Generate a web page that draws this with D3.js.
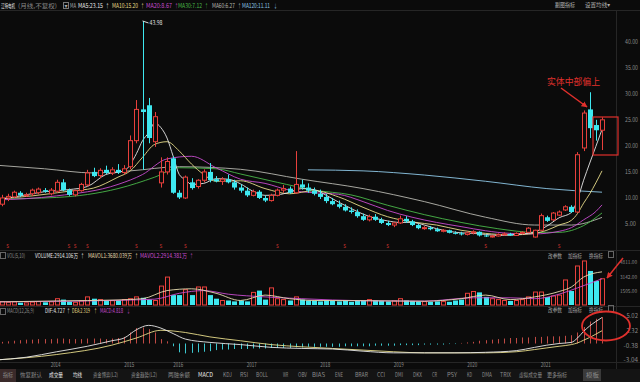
<!DOCTYPE html>
<html><head><meta charset="utf-8">
<script src="https://cdn.jsdelivr.net/npm/d3@7"></script>
<style>
body{margin:0;background:#0b0b0b;overflow:hidden}
svg{display:block}
text{font-family:"Noto Sans CJK SC","DejaVu Sans",sans-serif}
</style></head><body>
<svg width="640" height="382"></svg>
<script>
// monthly candles, index 0 = 2013-04
var open  = [9.6,8.8,10.0,10.2,11.0,10.5,10.8,11.0,11.5,10.8,11.3,13.0,11.5,10.6,11.4,12.5,15.0,14.3,15.4,14.8,15.4,14.9,16.0,21.0,27.0,27.8,20.8,12.9,15.0,17.6,
  11.0,10.0,13.0,12.2,13.4,15.0,13.6,13.2,13.6,13.0,12.0,11.4,10.5,11.2,10.0,9.5,10.5,11.5,11.8,11.0,12.6,12.0,11.4,10.8,10.2,9.4,8.8,8.3,7.6,7.3,
  6.5,5.8,6.4,5.8,5.2,4.8,5.2,6.0,5.5,4.8,4.2,4.3,4.0,3.6,3.8,3.3,3.2,3.0,3.3,3.5,2.8,2.6,2.7,3.0,3.1,2.8,3.2,3.4,2.5,3.8,
  6.3,5.8,6.7,7.7,8.3,7.3,19.6,27.0,24.0,23.0]
var high  = [10.2,10.6,10.8,11.4,11.3,11.0,11.8,12.0,11.9,11.9,13.5,13.6,11.8,11.6,12.9,15.4,15.8,15.7,16.2,15.9,16.5,16.3,22.0,28.8,43.98,29.2,26.5,17.8,17.8,18.0,
  11.5,14.3,13.8,13.6,15.5,16.7,14.2,14.0,14.5,13.5,12.6,12.0,11.6,11.5,10.5,10.8,11.8,12.5,12.2,19.0,13.5,12.8,12.0,11.6,10.8,10.0,9.5,8.8,8.2,7.8,
  7.0,6.8,6.9,6.2,5.6,5.4,6.6,6.5,5.8,5.0,4.6,4.6,4.3,4.0,3.9,3.6,3.5,3.6,3.8,3.6,3.0,2.9,3.2,3.4,3.3,3.4,3.6,4.4,3.9,7.0,
  6.6,7.3,7.6,8.6,8.6,18.8,26.8,30.3,25.0,25.5]
var low   = [8.8,8.4,9.4,10.0,10.2,10.2,10.4,10.7,11.0,10.5,11.0,11.3,10.4,10.3,11.2,12.2,14.0,13.8,14.6,14.4,14.6,14.5,15.5,20.5,15.4,20.5,19.8,12.0,14.5,10.8,
  9.8,9.8,11.6,11.8,13.0,13.0,13.0,12.5,12.8,11.6,11.0,10.2,10.3,9.8,9.2,9.3,10.3,11.0,10.8,10.8,11.6,11.0,10.5,9.8,9.0,8.6,8.0,7.4,7.0,6.2,
  5.6,5.5,5.6,5.0,4.6,4.4,5.0,5.2,4.6,4.0,3.9,3.8,3.5,3.4,3.2,3.0,2.8,2.8,3.0,2.6,2.5,2.4,2.6,2.8,2.7,2.7,3.0,3.3,2.4,3.7,
  5.4,5.6,6.5,7.5,7.1,7.1,19.0,21.5,21.0,19.2]
var close = [9.0,10.0,10.3,11.1,10.5,10.6,11.5,11.7,11.2,11.5,13.0,11.5,10.6,11.4,12.6,14.8,14.2,15.3,14.8,15.4,14.9,15.6,21.0,27.0,26.5,21.5,25.6,15.0,17.0,11.0,
  10.1,14.0,11.9,13.4,15.0,13.4,13.2,13.6,13.0,12.0,11.4,10.5,11.2,10.0,9.5,10.5,11.5,11.8,11.0,12.6,12.0,11.4,10.8,10.2,9.4,8.8,8.3,7.6,7.3,6.5,
  5.8,6.4,5.8,5.2,4.8,5.2,6.0,5.5,4.8,4.2,4.3,4.0,3.6,3.8,3.3,3.2,3.0,3.3,3.5,2.8,2.6,2.7,3.0,3.1,2.8,3.2,3.4,4.2,3.8,6.6,
  5.6,7.1,7.3,8.3,7.3,18.3,26.3,23.4,23.0,25.0]
var volume = [420,380,300,350,260,240,320,380,300,350,700,600,380,300,450,900,700,600,500,480,520,600,700,900,800,600,500,2100,3100,1100,
  1100,1700,1100,2000,2000,1100,700,500,500,400,500,400,1400,1600,600,1900,700,600,500,900,600,500,450,400,500,450,400,500,350,450,
  500,600,500,450,400,450,700,500,450,400,380,350,400,380,350,500,600,1300,1500,1400,900,700,600,500,450,500,600,900,1440,1440,
  890,1000,1100,2780,1550,4330,4890,3780,2670,2914]

var yearLabels = ['2014','2015','2016','2017','2018','2019','2020','2021']
var yearIdx = [9,21,29,41,53,65,77,89]
var priceTicks = [5,10,15,20,25,30,35,40]
var volTicks = [1505,3142,4811]
var volTickLabels = ['1505.00','3142.00','4811.00']
var macdTicks = [-3.04,-0.38,2.32,5.02]

// moving averages: [index, value]
var ma5   = [[0,9.6],[4,10.4],[8,11.2],[12,11.6],[15,12.2],[18,14.5],[21,15.2],[23,18.5],[24,21],[25,22.5],[26,24.4],[27,23.5],[28,21.5],[29,18],[30,14.5],[31,13.5],[32,12.6],[34,12.8],[36,13.7],[38,13.6],[40,12.7],[42,11.3],[44,10.5],[46,10.6],[48,11.1],[50,11.8],[52,11.6],[54,10.5],[56,9.2],[58,8.0],[60,6.9],[62,6.1],[64,5.6],[66,5.3],[68,5.3],[70,4.8],[72,4.1],[74,3.6],[76,3.3],[78,3.2],[80,3.0],[82,2.8],[84,2.9],[86,3.1],[88,3.5],[90,4.6],[92,6.2],[94,7.2],[95,9.7],[96,13.4],[97,16.7],[98,19.9],[99,23.15]]
var ma10  = [[0,9.8],[6,10.4],[12,11.3],[16,11.9],[20,14],[22,15.2],[24,17.8],[26,20.3],[28,20.8],[30,19],[32,16.5],[34,14.5],[36,13.2],[40,13.3],[44,11.8],[48,10.8],[52,11.4],[56,10.2],[60,8.2],[64,6.4],[68,5.4],[72,4.8],[76,3.8],[80,3.2],[84,2.9],[88,3.2],[90,3.8],[92,4.8],[94,5.7],[95,7.0],[96,9.0],[97,10.8],[98,12.9],[99,15.2]]
var ma20  = [[0,9.6],[10,10.4],[20,12.6],[24,14.5],[28,17.5],[32,18],[36,15.8],[40,13.6],[44,12.8],[48,11.5],[52,11.0],[56,10.7],[60,9.3],[64,7.6],[68,6.3],[72,5.3],[76,4.5],[80,3.7],[84,3.2],[88,3.1],[92,3.6],[94,4.3],[96,5.8],[98,7.4],[99,8.67]]
var ma30  = [[0,9.8],[10,10.1],[20,11.8],[26,14],[30,15.8],[36,15.6],[40,14.6],[46,13],[52,11.5],[58,10.6],[64,8.6],[70,6.8],[76,5.3],[82,4.1],[88,3.4],[92,3.4],[96,4.7],[99,7.12]]
var ma60  = [[0,16.3],[8,15.6],[16,14.8],[22,15.2],[30,16.0],[40,15.5],[50,13.6],[60,11.8],[70,9.3],[80,6.3],[88,4.8],[94,4.8],[99,6.27]]
var ma120 = [[51,15.4],[60,15.2],[70,14.4],[80,13.2],[90,11.8],[99,11.11]]
var mavol1 = [[0,340],[10,450],[20,560],[24,700],[28,1600],[32,1800],[36,1300],[40,500],[44,1100],[48,700],[52,500],[60,480],[70,420],[76,700],[80,1100],[84,600],[88,900],[92,1500],[94,2000],[96,3100],[99,3680]]
var mavol2 = [[0,350],[10,400],[20,520],[26,650],[30,1300],[34,1600],[38,1200],[44,900],[50,700],[60,470],[70,430],[78,800],[84,800],[88,700],[92,1200],[95,1900],[99,2914]]
var dif = [[0,-3.0],[5,-2.5],[10,-1.5],[15,-0.5],[19,0.5],[21,1.0],[23,2.5],[25,3.3],[27,2.8],[29,1.8],[31,0.8],[35,0.2],[40,-0.2],[45,-0.7],[50,-0.9],[55,-1.0],[60,-1.4],[65,-1.7],[70,-1.7],[75,-1.7],[80,-1.6],[85,-1.3],[88,-0.7],[90,-0.3],[92,0.0],[94,0.2],[95,1.0],[96,2.2],[97,3.2],[98,4.0],[99,4.727]]
var dea = [[0,-3.0],[10,-2.0],[19,-0.3],[23,1.0],[27,2.4],[31,2.0],[35,1.2],[40,0.5],[45,-0.2],[50,-0.6],[55,-0.9],[60,-1.2],[65,-1.5],[70,-1.7],[75,-1.7],[80,-1.7],[85,-1.5],[88,-1.1],[90,-0.8],[92,-0.5],[94,-0.2],[95,0.1],[96,0.6],[97,1.1],[98,1.7],[99,2.319]]
var macd = [0.2,0.3,0.4,0.5,0.6,0.7,0.7,0.8,0.8,0.8,0.9,0.9,0.8,0.8,0.8,0.9,0.9,0.9,0.8,0.9,1.0,1.2,2.0,2.8,2.9,2.6,2.0,0.8,0.4,-0.5,
  -1.6,-1.8,-1.7,-1.6,-1.5,-1.4,-1.2,-1.1,-1.1,-1.0,-1.0,-1.0,-0.9,-0.9,-0.9,-0.8,-0.8,-0.8,-0.8,-0.7,-0.7,-0.6,-0.6,-0.6,-0.6,-0.6,-0.6,-0.5,-0.5,-0.5,
  -0.5,-0.5,-0.4,-0.4,-0.4,-0.4,-0.3,-0.3,-0.3,-0.3,-0.2,-0.2,-0.2,-0.2,-0.1,-0.1,0.1,0.2,0.3,0.5,0.6,0.7,0.8,0.9,1.0,1.0,1.1,1.1,1.2,1.2,
  1.3,1.3,1.3,1.4,1.5,2.0,3.0,4.0,4.5,4.818]
var markIdx = [2,12,13,15,23,27,31,46,57,64,80,92]

var tabs = ['指标','恢复默认','成交量','均线','资金博弈(L2)','资金趋势(L2)','两融余额','MACD','KDJ','RSI','BOLL','WR','OBV','BIAS','ENE','BRAR','CCI','DMI','DKX','CR','PSY','KD','DMA','TRIX','虚拟成交量','更多指标','模板']
var tabX = [3,20,49,73,93,131,168,198,223,240,256,283,298,312,335,355,377,395,413,432,447,467,482,500,519,547,586]
var tabW = [10,22,14,9,25,26,22,15,9,8,12,5,9,13,8,13,8,8,9,5,10,5,10,11,23,20,13]

var UP = '#e8403c', DOWN = '#3ee8f0'
var svg = d3.select('svg')

var x = d3.scaleLinear().domain([0, 99]).range([-4.5, 602])
var y = d3.scaleLinear().domain([5, 40]).range([224, 41.7])
var yv = d3.scaleLinear().domain([0, 3142]).range([305, 276.7])
var ym = d3.scaleLinear().domain([0, 4.727]).range([343.5, 317.5])

svg.append('defs').append('clipPath').attr('id', 'plot')
  .append('rect').attr('x', 0).attr('y', 11).attr('width', 616).attr('height', 352)

// small text squeezed into the width it has in the picture
function txt(xx, yy, s, col, w, size) {
  var t = svg.append('text').attr('x', xx).attr('y', yy).attr('font-size', size || 6).attr('fill', col).text(s)
  if (w) t.attr('textLength', w).attr('lengthAdjust', 'spacingAndGlyphs')
  return t
}

// frame lines
var frame = svg.append('g').attr('stroke', '#262626')
frame.append('line').attr('x1', 0).attr('x2', 640).attr('y1', 10.5).attr('y2', 10.5)
frame.append('line').attr('x1', 0).attr('x2', 640).attr('y1', 250.5).attr('y2', 250.5)
frame.append('line').attr('x1', 0).attr('x2', 640).attr('y1', 306.5).attr('y2', 306.5)
frame.append('line').attr('x1', 0).attr('x2', 640).attr('y1', 362.5).attr('y2', 362.5)
frame.append('line').attr('x1', 616.5).attr('x2', 616.5).attr('y1', 11).attr('y2', 369)

var g = svg.append('g').attr('clip-path', 'url(#plot)')

var line = function(sc) {
  return d3.line().x(function(d) { return x(d[0]) }).y(function(d) { return sc(d[1]) }).curve(d3.curveMonotoneX)
}

// moving averages
var maSets = [[ma120,'#8fc8e8'],[ma60,'#b8b8b0'],[ma30,'#49b84a'],[ma20,'#c84ccf'],[ma10,'#e8dc8a'],[ma5,'#e8e8e8']]
maSets.forEach(function(m) {
  g.append('path').attr('d', line(y)(m[0])).attr('fill', 'none').attr('stroke', m[1]).attr('stroke-width', 0.9)
})

// candles
var idx = d3.range(open.length)
var cw = 4
idx.forEach(function(i) {
  var o = open[i], c = close[i]
  var col = c > o ? UP : DOWN
  if (Math.abs(c - o) < 0.05) col = '#ffffff'
  var cx = Math.round(x(i)) + 0.5
  var top = y(Math.max(o, c)), bot = y(Math.min(o, c))
  if (c > o) {
    g.append('line').attr('x1', cx).attr('x2', cx).attr('y1', y(high[i])).attr('y2', top).attr('stroke', col)
    g.append('line').attr('x1', cx).attr('x2', cx).attr('y1', bot).attr('y2', y(low[i])).attr('stroke', col)
    g.append('rect').attr('x', cx - cw / 2).attr('y', top).attr('width', cw).attr('height', Math.max(1, bot - top))
      .attr('fill', '#0b0b0b').attr('stroke', col)
  } else {
    g.append('line').attr('x1', cx).attr('x2', cx).attr('y1', y(high[i])).attr('y2', y(low[i])).attr('stroke', col)
    g.append('rect').attr('x', cx - cw / 2 - 0.5).attr('y', top).attr('width', cw + 1).attr('height', Math.max(1, bot - top))
      .attr('fill', col)
  }
})

// event markers
g.selectAll('.mk').data(markIdx).enter().append('text')
  .attr('x', function(d) { return x(d) }).attr('y', 248).attr('text-anchor', 'middle')
  .attr('fill', '#c0302c').attr('font-size', 6).text('s')

// volume
idx.forEach(function(i) {
  var cx = Math.round(x(i)) + 0.5
  var up = close[i] > open[i]
  if (up) {
    g.append('rect').attr('x', cx - cw / 2).attr('y', yv(volume[i])).attr('width', cw).attr('height', yv(0) - yv(volume[i]))
      .attr('fill', 'none').attr('stroke', UP)
  } else {
    g.append('rect').attr('x', cx - cw / 2 - 0.5).attr('y', yv(volume[i])).attr('width', cw + 1).attr('height', yv(0) - yv(volume[i]))
      .attr('fill', DOWN)
  }
})
g.append('path').attr('d', line(yv)(mavol2)).attr('fill', 'none').attr('stroke', '#c84ccf').attr('stroke-width', 0.9)
g.append('path').attr('d', line(yv)(mavol1)).attr('fill', 'none').attr('stroke', '#e8dcb0').attr('stroke-width', 0.9)

// macd
idx.forEach(function(i) {
  var cx = Math.round(x(i)) + 0.5
  g.append('line').attr('x1', cx).attr('x2', cx).attr('y1', ym(0)).attr('y2', ym(macd[i]))
    .attr('stroke', macd[i] >= 0 ? '#c04a44' : '#3cc8d0').attr('stroke-width', 1)
})
g.append('path').attr('d', line(ym)(dea)).attr('fill', 'none').attr('stroke', '#e8dc8a').attr('stroke-width', 0.9)
g.append('path').attr('d', line(ym)(dif)).attr('fill', 'none').attr('stroke', '#e8e8e8').attr('stroke-width', 0.9)

// right axes
priceTicks.forEach(function(d) { txt(625, y(d) + 2, d.toFixed(2), '#8a8a8a', d < 10 ? 11 : 13) })
volTicks.forEach(function(d, i) { txt(620, yv(d) + 2, volTickLabels[i], '#8a8a8a', 17, 5) })
macdTicks.forEach(function(d) { var s = d.toFixed(2); txt(638 - s.length * 2.9, ym(d) + 2, s, '#8a8a8a', s.length * 2.9) })

// years
yearLabels.forEach(function(d, i) { txt(x(yearIdx[i]), 367, d, '#8a8a8a', 10) })

// header
svg.append('rect').attr('x', 63.5).attr('y', 2.5).attr('width', 5).attr('height', 6).attr('fill', 'none').attr('stroke', '#777')
txt(64.5, 7.5, '▾', '#aaa')
txt(1, 8, '江特电机', '#e0e0e0', 14)
txt(18, 8, '(月线,不复权)', '#8a8a8a', 39)
txt(70, 8, 'MA', '#aaa', 6)
var hdr = [[78,'MA5:23.15','#e8e8e8',25,106,'↑'],[112,'MA10:15.20','#e8dc8a',26,141,'↑'],[146,'MA20:8.67','#c84ccf',26,175,'↑'],
  [178,'MA30:7.12','#49b84a',24,205,'↑'],[212,'MA60:6.27','#b8b8b0',23,238,'↑'],[242,'MA120:11.11','#8fc8e8',28,274,'↓']]
hdr.forEach(function(h) { txt(h[0], 8, h[1], h[2], h[3]); txt(h[4], 8, h[5], h[2], 3) })
txt(555, 7, '副图指标', '#b0b0b0', 20)
txt(585, 7, '设置均线▾', '#b0b0b0', 25)

svg.append('rect').attr('x', 0.5).attr('y', 252.5).attr('width', 5).attr('height', 6).attr('fill', 'none').attr('stroke', '#666')
txt(7, 258, 'VOL(5,10)', '#8a8a8a', 18)
var vh = [[35,'VOLUME:2914.106万','#e8e8e8',43,81,'↑'],[88,'MAVOL1:3680.039万','#e8dcb0',44,135,'↑'],[140,'MAVOL2:2914.381万','#c84ccf',47,190,'↑']]
vh.forEach(function(h) { txt(h[0], 258, h[1], h[2], h[3]); txt(h[4], 258, h[5], h[2], 3) })

svg.append('rect').attr('x', 0.5).attr('y', 308.5).attr('width', 5).attr('height', 6).attr('fill', 'none').attr('stroke', '#666')
txt(7, 313, 'MACD(12,26,9)', '#8a8a8a', 27)
var mh = [[45,'DIF:4.727','#e8e8e8',20,67,'↑'],[72,'DEA:2.319','#e8dc8a',18,94,'↑'],[100,'MACD:4.818','#c84ccf',23,127,'↓']]
mh.forEach(function(h) { txt(h[0], 313, h[1], h[2], h[3]); txt(h[4], 313, h[5], h[2], 3) })

;[258, 312].forEach(function(yy) {
  txt(548, yy, '改参数', '#a0a0a0', 14)
  txt(568, yy, '加指标', '#a0a0a0', 14)
  txt(589, yy, '换指标', '#a0a0a0', 14)
  svg.append('rect').attr('x', 608.5).attr('y', yy - 6.5).attr('width', 5).attr('height', 6).attr('fill', 'none').attr('stroke', '#666')
})

// 43.98 label
svg.append('line').attr('x1', x(24)).attr('y1', y(43.98)).attr('x2', x(24) + 6).attr('y2', y(43.98) + 2).attr('stroke', '#ddd')
txt(x(24) + 7, y(43.98) + 4, '43.98', '#e0e0e0', 13)

// bottom tabs
svg.append('rect').attr('x', 0).attr('y', 369).attr('width', 640).attr('height', 13).attr('fill', '#141414')
svg.append('rect').attr('x', 0).attr('y', 369).attr('width', 16).attr('height', 13).attr('fill', '#3a2a2a')
svg.append('rect').attr('x', 583).attr('y', 369).attr('width', 18).attr('height', 12).attr('fill', '#3a3a3a')
tabs.forEach(function(d, i) {
  txt(tabX[i], 377, d, (i == 2 || i == 3 || i == 7) ? '#e8e8e8' : '#8a8a8a', tabW[i])
})

// annotations
var red = '#e0302c'
svg.append('defs').append('marker').attr('id', 'ah').attr('viewBox', '0 0 10 10').attr('refX', 9).attr('refY', 5)
  .attr('markerWidth', 4).attr('markerHeight', 4).attr('orient', 'auto')
  .append('path').attr('d', 'M0,0L10,5L0,10z').attr('fill', red)
txt(547, 85, '实体中部偏上', red, 53, 9)
svg.append('line').attr('x1', 561).attr('y1', 88).attr('x2', 587).attr('y2', 107).attr('stroke', red).attr('stroke-width', 1.5).attr('marker-end', 'url(#ah)')
svg.append('rect').attr('x', 593).attr('y', 117).attr('width', 25).attr('height', 38).attr('fill', 'none').attr('stroke', red).attr('stroke-width', 1.2)
svg.append('line').attr('x1', 623).attr('y1', 258).attr('x2', 607).attr('y2', 278).attr('stroke', red).attr('stroke-width', 1.5).attr('marker-end', 'url(#ah)')
svg.append('ellipse').attr('cx', 606).attr('cy', 326).attr('rx', 24).attr('ry', 14.5).attr('fill', 'none').attr('stroke', red).attr('stroke-width', 1.8)
</script>
</body></html>
